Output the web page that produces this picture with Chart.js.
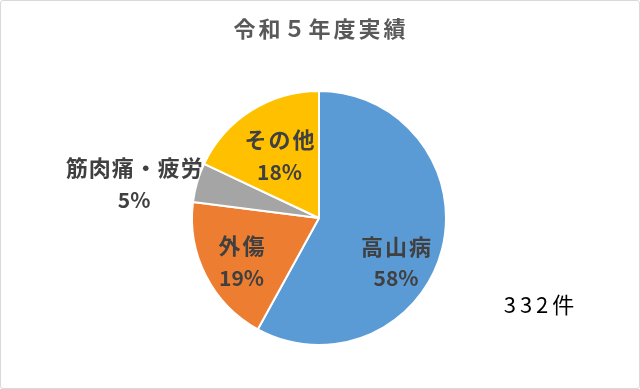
<!DOCTYPE html>
<html>
<head>
<meta charset="utf-8">
<script src="https://cdn.jsdelivr.net/npm/chart.js@4/dist/chart.umd.min.js"></script>
<style>
    html, body { margin: 0; padding: 0; background: #fff; }
    #frame {
        width: 640px; height: 389px; box-sizing: border-box;
        border: 1px solid #d9d9d9; border-radius: 3px; overflow: hidden;
    }
    canvas { display: block; }
</style>
</head>
<body>
<div id="frame"><canvas id="pie" width="638" height="387"></canvas></div>
<script>
// chart data
const categories = ['高山病', '外傷', '筋肉痛・疲労', 'その他']
const shares = [58, 19, 5, 18]
const sliceColors = ['#5B9BD5', '#ED7D31', '#A5A5A5', '#FFC000']
const titleText = '令和５年度実績'
const totalText = '332件'

// where each label sits: fraction of radius and a turn (deg) away from the slice middle
const labelPlace = [
    {f: 0.70, turn: 15.6, spacing: 2},
    {f: 0.70, turn: -2.4, spacing: 2},
    {f: 1.48, turn: -5.8, spacing: 1},
    {f: 0.58, turn: 0, spacing: 2}
]

const FONT = '"Noto Sans CJK JP", "Noto Sans", sans-serif'

const textPlugin = {
    id: 'textPlugin',
    afterDraw(chart) {
        const ctx = chart.ctx
        const arcs = chart.getDatasetMeta(0).data
        ctx.save()
        ctx.textAlign = 'center'
        ctx.textBaseline = 'middle'

        // slice labels
        arcs.forEach((arc, i) => {
            const p = arc.getProps(['x', 'y', 'startAngle', 'endAngle', 'outerRadius'], true)
            const a = (p.startAngle + p.endAngle) / 2 + labelPlace[i].turn * Math.PI / 180
            const r = p.outerRadius * labelPlace[i].f
            const cx = p.x + Math.cos(a) * r
            const cy = p.y + Math.sin(a) * r
            ctx.fillStyle = '#404040'
            ctx.font = 'bold 22px ' + FONT
            ctx.letterSpacing = labelPlace[i].spacing + 'px'
            ctx.fillText(categories[i], cx + labelPlace[i].spacing / 2, cy - 16)
            ctx.font = 'bold 21px ' + FONT
            ctx.letterSpacing = '0px'
            ctx.fillText(shares[i] + '%', cx, cy + 16)
        })

        // title
        ctx.fillStyle = '#595959'
        ctx.font = 'bold 22px ' + FONT
        ctx.letterSpacing = '3px'
        ctx.fillText(titleText, chart.width / 2 + 1, 28)

        // total count
        ctx.fillStyle = '#000000'
        ctx.font = '22px ' + FONT
        ctx.letterSpacing = '4px'
        ctx.fillText(totalText, 540, 304)
        ctx.restore()
    }
}

new Chart(document.getElementById('pie'), {
    type: 'pie',
    data: {
        labels: categories,
        datasets: [{
            data: shares,
            backgroundColor: sliceColors,
            borderColor: '#ffffff',
            borderWidth: 2
        }]
    },
    options: {
        responsive: false,
        animation: false,
        layout: {padding: {top: 89, bottom: 42, left: 0, right: 2}},
        plugins: {
            legend: {display: false},
            tooltip: {enabled: false},
            title: {display: false}
        }
    },
    plugins: [textPlugin]
})
</script>
</body>
</html>
